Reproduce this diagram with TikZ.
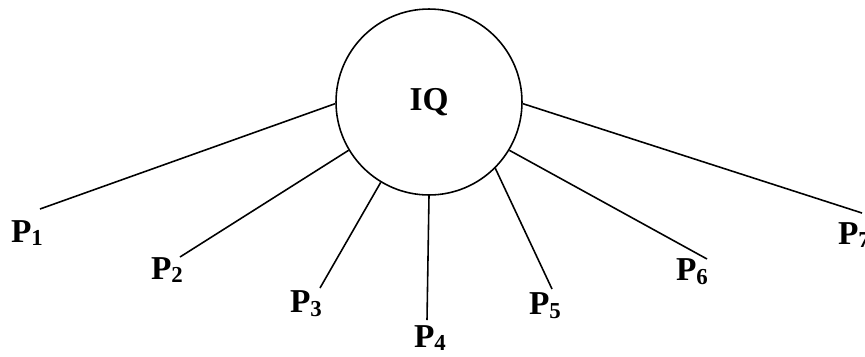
\documentclass[tikz,border=0pt]{standalone}
\usepackage{fontspec}
\setmainfont{Liberation Serif}
\usetikzlibrary{positioning}

\tikzset{
  spoke/.style={line width=0.9pt},
  plabel/.style={font=\bfseries\fontsize{19}{22}\selectfont, inner sep=0pt},
}
\newcommand{\psub}[1]{P\raisebox{-0.25ex}{\fontsize{13}{13}\selectfont #1}}

\begin{document}
\begin{tikzpicture}[x=0.02cm,y=-0.02cm]
\useasboundingbox (0,0) rectangle (865,356);
% central circle
\node[draw, circle, line width=0.9pt, minimum size=3.72cm, inner sep=0pt,
      font=\bfseries\fontsize{19}{22}\selectfont] (iq) at (429,102) {IQ};
% spokes out to the seven P labels
\foreach \i/\ang/\ex/\ey/\lx/\ly in {
  1/181/40/209/27/233,
  2/211/180/257/167/270,
  3/239/320/288/306/304,
  4/270/427/320/430/338,
  5/315/552/289/545/306,
  6/329/707/259/692/272,
  7/359/862/213/854/235
}{
  \coordinate (e\i) at (\ex,\ey);
  \node[plabel] (p\i) at (\lx,\ly) {\psub{\i}};
  \draw[spoke] (iq.\ang) -- (e\i);
}
\end{tikzpicture}
\end{document}
